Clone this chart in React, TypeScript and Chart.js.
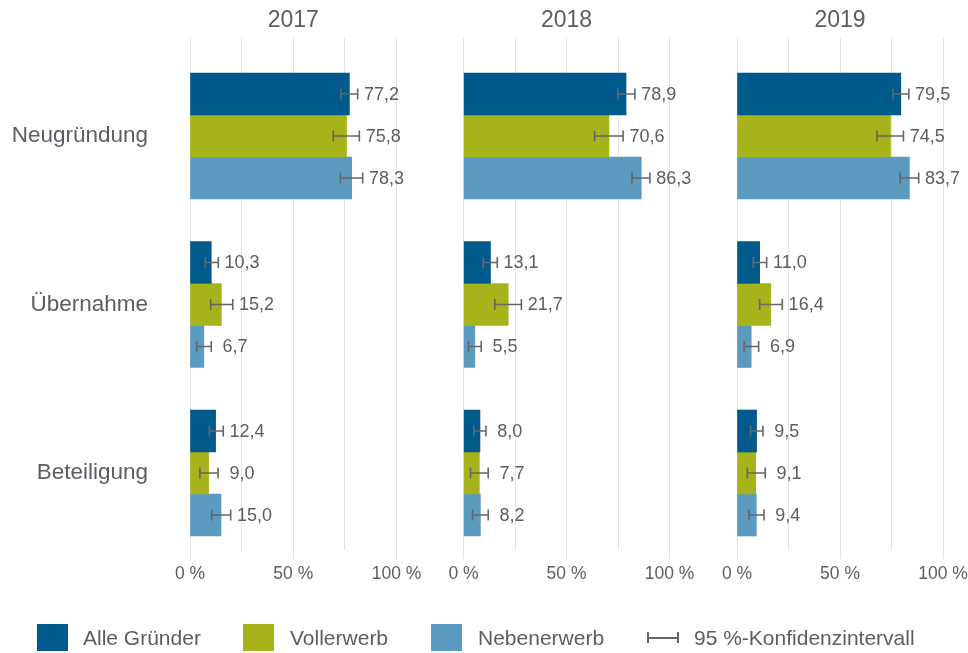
import React, { useEffect, useRef } from 'react';
import { Chart, registerables } from 'chart.js';

Chart.register(...registerables);

// ---------- data ----------
const years = ['2017', '2018', '2019'];
const categories = ['Neugründung', 'Übernahme', 'Beteiligung'];
const seriesNames = ['Alle Gründer', 'Vollerwerb', 'Nebenerwerb'];
const seriesColors = ['#005a8c', '#a6b31a', '#5b9bbf'];
const xTickValues = [0, 25, 50, 75, 100];
const legendCiLabel = '95 %-Konfidenzintervall';

// values per category (Neugründung, Übernahme, Beteiligung)
const alle2017 = [77.2, 10.3, 12.4];
const voll2017 = [75.8, 15.2, 9.0];
const neben2017 = [78.3, 6.7, 15.0];
const alle2018 = [78.9, 13.1, 8.0];
const voll2018 = [70.6, 21.7, 7.7];
const neben2018 = [86.3, 5.5, 8.2];
const alle2019 = [79.5, 11.0, 9.5];
const voll2019 = [74.5, 16.4, 9.1];
const neben2019 = [83.7, 6.9, 9.4];

// 95 % confidence intervals (lower / upper)
const alle2017Low = [73.1, 7.4, 9.4];
const alle2017High = [81.2, 13.7, 16.1];
const voll2017Low = [69.4, 10.0, 4.8];
const voll2017High = [82.0, 20.7, 13.6];
const neben2017Low = [72.8, 3.2, 10.5];
const neben2017High = [83.6, 10.3, 19.7];
const alle2018Low = [74.9, 9.6, 5.0];
const alle2018High = [83.2, 16.4, 10.9];
const voll2018Low = [63.6, 15.2, 3.4];
const voll2018High = [77.5, 28.1, 12.0];
const neben2018Low = [81.8, 2.4, 4.4];
const neben2018High = [90.5, 8.6, 12.0];
const alle2019Low = [75.8, 7.9, 6.6];
const alle2019High = [83.4, 14.4, 12.6];
const voll2019Low = [68.0, 11.0, 5.0];
const voll2019High = [80.8, 22.0, 13.7];
const neben2019Low = [79.2, 3.5, 5.8];
const neben2019High = [88.2, 10.5, 13.1];

const panelValues = [
  [alle2017, voll2017, neben2017],
  [alle2018, voll2018, neben2018],
  [alle2019, voll2019, neben2019],
];
const panelLow = [
  [alle2017Low, voll2017Low, neben2017Low],
  [alle2018Low, voll2018Low, neben2018Low],
  [alle2019Low, voll2019Low, neben2019Low],
];
const panelHigh = [
  [alle2017High, voll2017High, neben2017High],
  [alle2018High, voll2018High, neben2018High],
  [alle2019High, voll2019High, neben2019High],
];

// ---------- styles ----------
const W = 968;
const H = 653;
const FONT = "'Liberation Sans', Arial, Helvetica, sans-serif";
const TEXT = '#5a5e63';
const GRID = '#e3e3e3';
const ERR = '#666666';
const panelLeft = [190, 463.5, 737];
const panelRight = [396.5, 669.5, 943];

const fmt = (v: number) => v.toFixed(1).replace('.', ',');

const errorBarPlugin = {
  id: 'errorBars',
  afterDatasetsDraw(chart: any) {
    const ctx = chart.ctx;
    const xs = chart.scales.x;
    ctx.save();
    chart.data.datasets.forEach((ds: any, di: number) => {
      const meta = chart.getDatasetMeta(di);
      meta.data.forEach((el: any, i: number) => {
        const lo = xs.getPixelForValue(ds.ciLow[i]);
        const hi = xs.getPixelForValue(ds.ciHigh[i]);
        const y = el.y;
        ctx.strokeStyle = ERR;
        ctx.lineWidth = 1.6;
        ctx.beginPath();
        ctx.moveTo(lo, y);
        ctx.lineTo(hi, y);
        ctx.moveTo(lo, y - 5.5);
        ctx.lineTo(lo, y + 5.5);
        ctx.moveTo(hi, y - 5.5);
        ctx.lineTo(hi, y + 5.5);
        ctx.stroke();
        ctx.fillStyle = TEXT;
        ctx.font = `18px ${FONT}`;
        ctx.textAlign = 'left';
        ctx.textBaseline = 'middle';
        ctx.fillText(fmt(ds.data[i]).padStart(4, ' '), hi + 6.3, y + 1);
      });
    });
    ctx.restore();
  },
};

function Panel({ index }: { index: number }) {
  const ref = useRef<HTMLCanvasElement | null>(null);
  useEffect(() => {
    if (!ref.current) return;
    const first = index === 0;
    const chart = new Chart(ref.current, {
      type: 'bar',
      data: {
        datasets: seriesNames.map((name, s) => ({
          label: name,
          data: panelValues[index][s],
          ciLow: panelLow[index][s],
          ciHigh: panelHigh[index][s],
          backgroundColor: seriesColors[s],
          borderWidth: 0,
          barThickness: 42,
        })) as any,
        labels: [0, 1, 2],
      },
      options: {
        indexAxis: 'y',
        animation: false,
        responsive: false,
        devicePixelRatio: 1,
        events: [],
        layout: {
          padding: {
            left: first ? 0 : panelLeft[index],
            right: W - panelRight[index],
            top: 0,
            bottom: 63,
          },
        },
        plugins: {
          legend: { display: false },
          tooltip: { enabled: false },
          title: {
            display: true,
            text: years[index],
            fullSize: false,
            color: TEXT,
            font: { family: FONT, size: 23, weight: 'normal' },
            padding: { top: 7, bottom: 3.4 },
          },
        },
        scales: {
          x: {
            type: 'linear',
            min: 0,
            max: 100,
            offset: false,
            afterBuildTicks: (s: any) => {
              s.ticks = xTickValues.map((v) => ({ value: v }));
            },
            afterFit: (s: any) => {
              s.height = 40;
              s.paddingLeft = 0;
              s.paddingRight = 0;
            },
            border: { display: false },
            grid: {
              color: GRID,
              lineWidth: 1,
              drawTicks: true,
              tickLength: 9,
              offset: false,
              tickColor: (c: any) => (c.tick && c.tick.value % 50 === 0 ? GRID : 'rgba(0,0,0,0)'),
            },
            ticks: {
              autoSkip: false,
              maxRotation: 0,
              padding: 5,
              color: TEXT,
              font: { family: FONT, size: 17.5 },
              callback: (v: any) => (Number(v) % 50 === 0 ? `${v} %` : ''),
            },
          },
          y: {
            type: 'linear',
            display: first,
            reverse: true,
            offset: false,
            grace: 0,
            min: -0.5816,
            max: 2.457,
            afterBuildTicks: (s: any) => {
              s.ticks = categories.map((_, i) => ({ value: i }));
            },
            afterFit: (s: any) => {
              if (first) s.width = panelLeft[0];
              s.paddingTop = 0;
              s.paddingBottom = 0;
            },
            border: { display: false },
            grid: { display: false, drawTicks: false, offset: false },
            ticks: {
              padding: 42,
              color: TEXT,
              font: { family: FONT, size: 22.5 },
              callback: (v: any) => categories[Number(v)] ?? '',
            },
          },
        },
      } as any,
      plugins: [errorBarPlugin],
    });
    return () => chart.destroy();
  }, [index]);
  return (
    <canvas
      ref={ref}
      width={W}
      height={H}
      style={{ position: 'absolute', left: 0, top: 0, width: W, height: H }}
    />
  );
}

const legendSquares = [37, 243, 431];
const legendTexts = [83, 290, 478];

export default function App() {
  return (
    <div
      style={{
        position: 'absolute',
        left: 0,
        top: 0,
        width: W,
        height: H,
        background: '#ffffff',
        overflow: 'hidden',
        fontFamily: FONT,
      }}
    >
      {years.map((_, i) => (
        <Panel key={i} index={i} />
      ))}
      {seriesNames.map((name, s) => (
        <React.Fragment key={name}>
          <div
            style={{
              position: 'absolute',
              left: legendSquares[s],
              top: 624,
              width: 31,
              height: 27,
              background: seriesColors[s],
            }}
          />
          <div
            style={{
              position: 'absolute',
              left: legendTexts[s],
              top: 624,
              height: 27,
              lineHeight: '27px',
              fontSize: 21,
              color: TEXT,
              whiteSpace: 'nowrap',
            }}
          >
            {name}
          </div>
        </React.Fragment>
      ))}
      <div style={{ position: 'absolute', left: 647, top: 637, width: 32, height: 1.6, background: ERR }} />
      <div style={{ position: 'absolute', left: 647, top: 632, width: 1.6, height: 11, background: ERR }} />
      <div style={{ position: 'absolute', left: 677.4, top: 632, width: 1.6, height: 11, background: ERR }} />
      <div
        style={{
          position: 'absolute',
          left: 694,
          top: 624,
          height: 27,
          lineHeight: '27px',
          fontSize: 21,
          color: TEXT,
          whiteSpace: 'nowrap',
        }}
      >
        {legendCiLabel}
      </div>
    </div>
  );
}
